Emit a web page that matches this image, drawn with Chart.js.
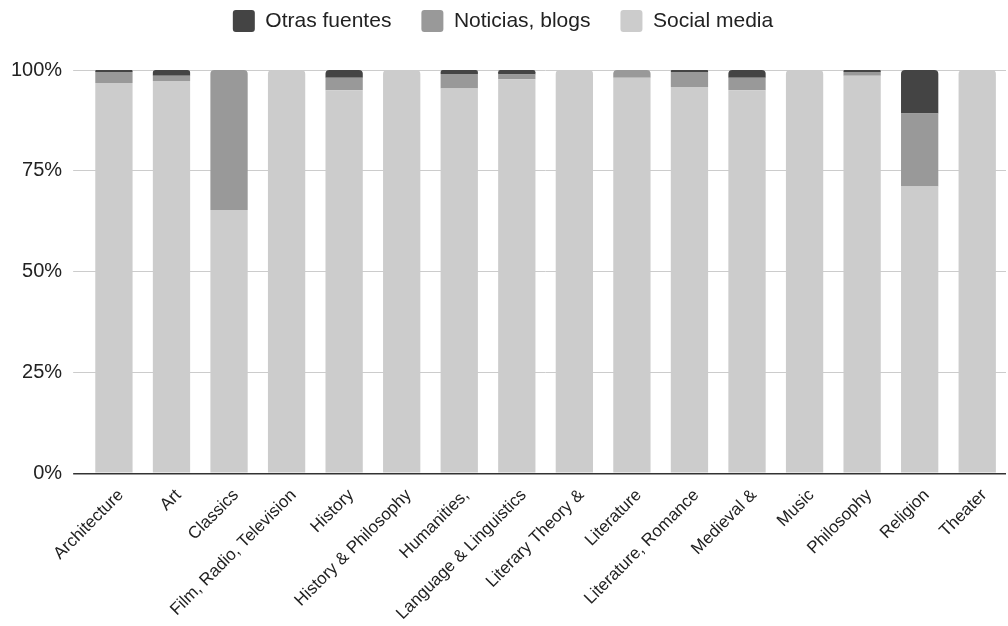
<!DOCTYPE html>
<html>
<head>
<meta charset="utf-8">
<script src="https://cdn.jsdelivr.net/npm/chart.js@4"></script>
<style>
html,body{margin:0;padding:0;background:#fff;}
#wrap{width:1008px;height:626px;}
</style>
</head>
<body>
<div id="wrap"><canvas id="c" width="1008" height="626"></canvas></div>
<script>
const categories = ["Architecture","Art","Classics","Film, Radio, Television","History","History & Philosophy","Humanities,","Language & Linguistics","Literary Theory &","Literature","Literature, Romance","Medieval &","Music","Philosophy","Religion","Theater"];
const socialMedia = [96.8, 97.3, 65.3, 100, 95.0, 100, 95.4, 97.7, 100, 98.1, 95.8, 95.0, 100, 98.6, 71.1, 100];
const noticiasBlogs = [2.7, 1.3, 34.7, 0, 3.1, 0, 3.6, 1.2, 0, 1.9, 3.7, 3.1, 0, 0.9, 18.1, 0];
const otrasFuentes = [0.5, 1.4, 0, 0, 1.9, 0, 1.0, 1.1, 0, 0, 0.5, 1.9, 0, 0.5, 10.8, 0];
const yTicks = [0, 25, 50, 75, 100];

const FONT = "'Liberation Sans', Arial, sans-serif";
const seriesList = [socialMedia, noticiasBlogs, otrasFuentes];

function topRadius(ctx) {
  const di = ctx.datasetIndex, i = ctx.dataIndex;
  if (i === undefined) return 0;
  for (let k = seriesList.length - 1; k > di; k--) {
    if (seriesList[k][i] > 0) return 0;
  }
  return {topLeft: 4, topRight: 4, bottomLeft: 0, bottomRight: 0};
}

const common = {borderWidth: 0, borderRadius: topRadius, borderSkipped: false, barPercentage: 0.648, categoryPercentage: 1.0};

const legendSpacer = {
  id: 'legendSpacer',
  beforeInit(chart) {
    const lg = chart.legend;
    if (!lg) return;
    const orig = lg.fit;
    lg.fit = function() { orig.call(this); this.height += 28; };
  }
};

new Chart(document.getElementById('c'), {
  type: 'bar',
  data: {
    labels: categories,
    datasets: [
      Object.assign({label: 'Social media', data: socialMedia, backgroundColor: '#cccccc'}, common),
      Object.assign({label: 'Noticias, blogs', data: noticiasBlogs, backgroundColor: '#999999'}, common),
      Object.assign({label: 'Otras fuentes', data: otrasFuentes, backgroundColor: '#444444'}, common)
    ]
  },
  plugins: [legendSpacer],
  options: {
    responsive: false,
    animation: false,
    devicePixelRatio: 1,
    layout: {padding: {left: 0, right: 2, top: -20, bottom: -2}},
    plugins: {
      legend: {
        reverse: true,
        position: 'top',
        labels: {
          font: {family: FONT, size: 21},
          color: '#222',
          boxWidth: 22, boxHeight: 22,
          useBorderRadius: true, borderRadius: 3,
          padding: 30
        }
      },
      tooltip: {enabled: false}
    },
    scales: {
      x: {
        stacked: true,
        grid: {display: false},
        border: {display: false},
        ticks: {
          autoSkip: false, minRotation: 45, maxRotation: 45,
          font: {family: FONT, size: 17}, color: '#222', padding: 4, labelOffset: 7
        }
      },
      y: {
        stacked: true,
        min: 0, max: 100,
        afterBuildTicks: (s) => { s.ticks = yTicks.map(v => ({value: v})); },
        border: {display: false},
        grid: {
          color: (c) => c.tick && c.tick.value === 0 ? '#333333' : '#cccccc',
          tickColor: (c) => c.tick && c.tick.value === 0 ? '#333333' : '#cccccc',
          lineWidth: (c) => c.tick && c.tick.value === 0 ? 1.5 : 1,
          drawTicks: true, tickLength: 12
        },
        ticks: {
          font: {family: FONT, size: 20}, color: '#222', padding: 11,
          callback: (v) => v + '%'
        }
      }
    }
  }
});
</script>
</body>
</html>
